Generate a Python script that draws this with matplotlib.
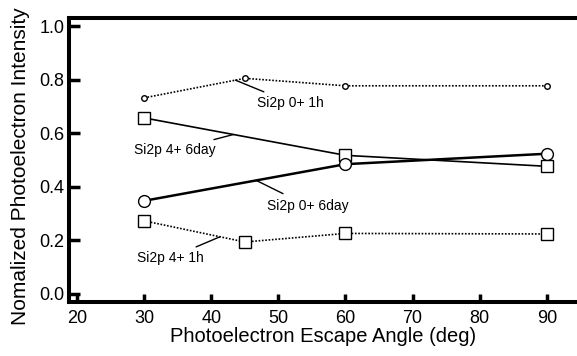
import numpy as np
import matplotlib
matplotlib.use("Agg")
import matplotlib.pyplot as plt

plt.rcParams['font.family'] = ['Liberation Sans', 'DejaVu Sans']

angles_1h = [30, 45, 60, 90]
angles_6day = [30, 60, 90]
si0_1h = [0.733, 0.806, 0.778, 0.778]
si4_1h = [0.273, 0.194, 0.226, 0.224]
si0_6day = [0.348, 0.485, 0.524]
si4_6day = [0.658, 0.518, 0.477]

xticks = [20, 30, 40, 50, 60, 70, 80, 90]
yticks = [0.0, 0.2, 0.4, 0.6, 0.8, 1.0]

fig = plt.figure(figsize=(5.77, 3.56), dpi=100)
ax = fig.add_axes([0.119, 0.152, 0.881, 0.797])

dotted = (0, (1, 1))
ax.plot(angles_1h, si0_1h, linestyle=dotted, color='black', lw=1.2,
        marker='o', ms=4, mfc='white', mec='black', mew=1.0, zorder=3)
ax.plot(angles_1h, si4_1h, linestyle=dotted, color='black', lw=1.2,
        marker='s', ms=8, mfc='white', mec='black', mew=1.0, zorder=3)
ax.plot(angles_6day, si4_6day, linestyle='-', color='black', lw=1.2,
        marker='s', ms=8, mfc='white', mec='black', mew=1.0, zorder=3)
ax.plot(angles_6day, si0_6day, linestyle='-', color='black', lw=1.8,
        marker='o', ms=8.5, mfc='white', mec='black', mew=1.0, zorder=4)

def leader(text, xs, ys, xa, xt, yt, ha, shrink):
    ya = float(np.interp(xa, xs, ys))
    ax.annotate(text, xy=(xa, ya), xytext=(xt, yt), ha=ha, va='center',
                fontsize=10,
                arrowprops=dict(arrowstyle='-', color='black', lw=1.0,
                                shrinkA=shrink, shrinkB=0))

leader('Si2p 0+ 1h', angles_1h, si0_1h, 43.6, 46.8, 0.715, 'left', 2)
leader('Si2p 4+ 6day', angles_6day, si4_6day, 43.3, 40.7, 0.539, 'right', 1)
leader('Si2p 0+ 6day', angles_6day, si0_6day, 46.7, 48.3, 0.329, 'left', 4)
leader('Si2p 4+ 1h', angles_1h, si4_1h, 41.3, 38.9, 0.135, 'right', 2)

ax.set_xlim(18.75, 94.5)
ax.set_ylim(-0.03, 1.031)
ax.set_xticks(xticks)
ax.set_yticks(yticks)
ax.set_xticklabels([str(t) for t in xticks])
ax.set_yticklabels([f'{t:.1f}' for t in yticks])

for s in ['left', 'bottom', 'top']:
    ax.spines[s].set_linewidth(2.9)
ax.spines['right'].set_visible(False)

ax.tick_params(axis='y', direction='in', length=8, width=2.5, labelsize=13, pad=3)
ax.tick_params(axis='x', direction='in', length=6, width=2.5, labelsize=13, pad=6)

ax.set_xlabel('Photoelectron Escape Angle (deg)', fontsize=14.5, labelpad=0)
ax.set_ylabel('Nomalized Photoelectron Intensity', fontsize=15, va='center')
ax.yaxis.set_label_coords(21 / 577, 1 - 166 / 356, transform=fig.transFigure)

fig.savefig('out.png', dpi=100)
